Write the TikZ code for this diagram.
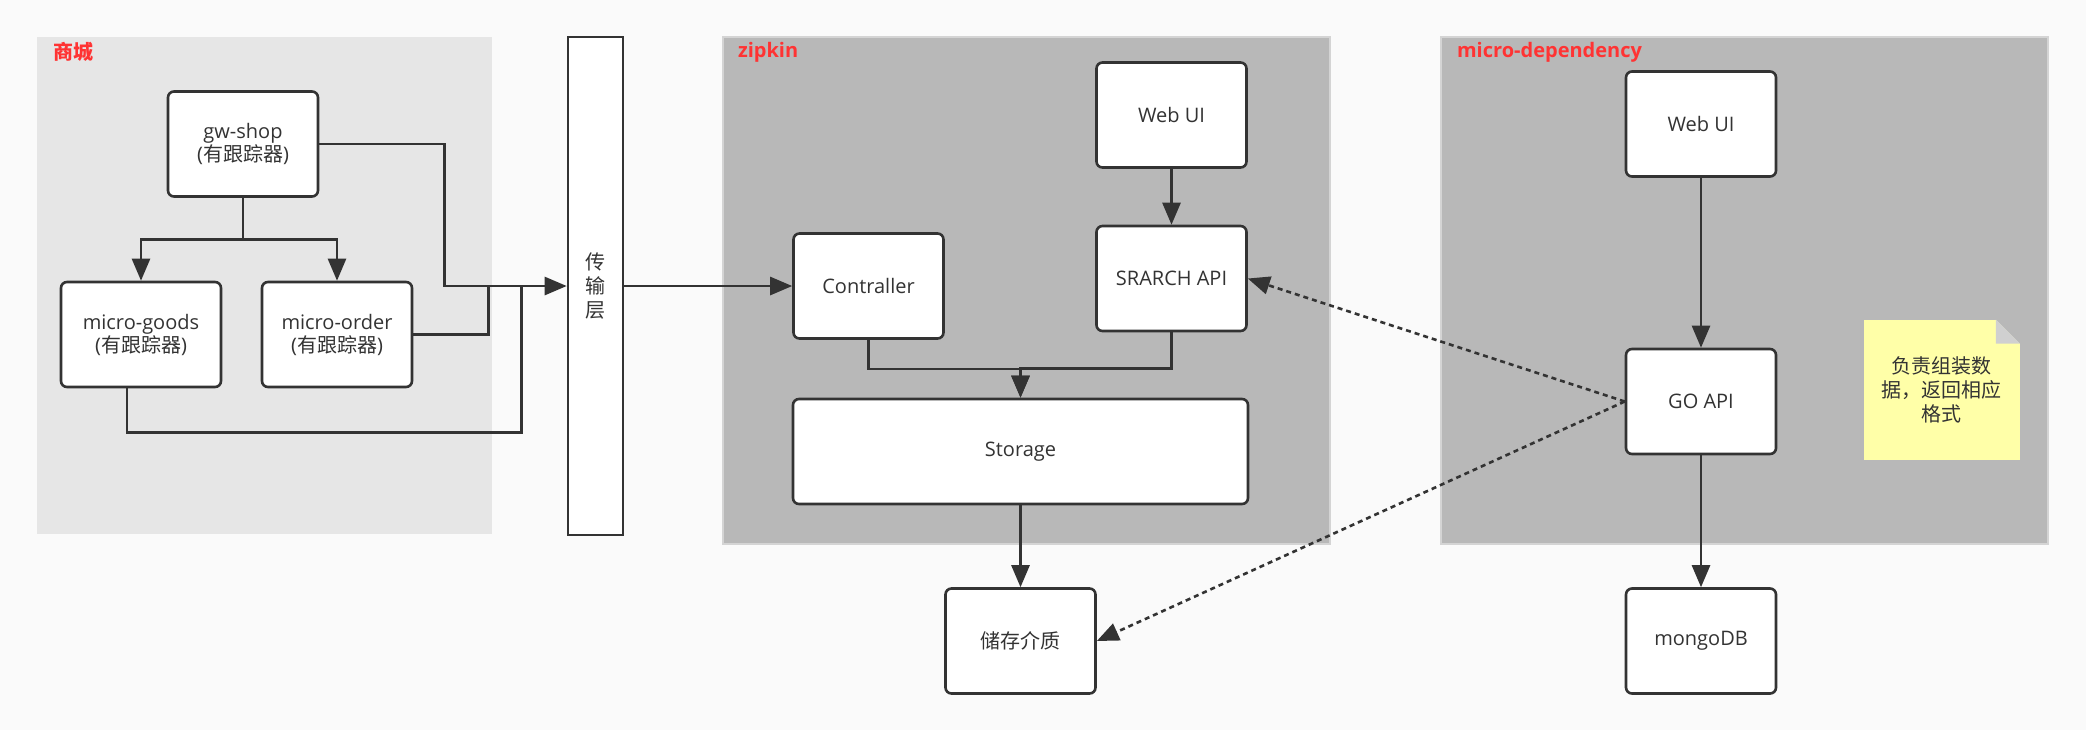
\documentclass[tikz,border=0pt]{standalone}
\usepackage{fontspec}
\setmainfont{Open Sans}
\newfontfamily\cjk{Noto Sans CJK SC}
\usetikzlibrary{arrows.meta, calc, positioning}

\definecolor{bgcol}{HTML}{FAFAFA}
\definecolor{mallcol}{HTML}{E6E6E6}
\definecolor{zonecol}{HTML}{B8B8B8}
\definecolor{zoneline}{HTML}{D4D4D4}
\definecolor{linecol}{HTML}{333333}
\definecolor{labelcol}{HTML}{FF3333}
\definecolor{notecol}{HTML}{FFFFA8}
\definecolor{foldcol}{HTML}{D0D0D0}

\begin{document}
\begin{tikzpicture}[
		x=0.5pt, y=-0.5pt,
		box/.style	={ rectangle, draw=linecol, line width=1.3pt,
			rounded corners=3pt, fill=white, text=linecol,
			minimum width=75pt, minimum height=52.5pt,
			align=center, font=\fontsize{10}{11.5}\selectfont,
		},
		zone/.style	={ draw=zoneline, line width=0.6pt, fill=zonecol },
		title/.style	={ anchor=west, text=labelcol,
			font=\fontsize{10}{12}\selectfont\bfseries,
		},
		memo/.style	={ rectangle, fill=notecol, text=linecol,
			minimum width=78pt, minimum height=70pt,
			align=center, font=\fontsize{10}{12}\selectfont\cjk,
		},
		link/.style	={ draw=linecol, line width=1.3pt },
		flow/.style	={ link, -{Triangle[length=11pt, width=9pt]} },
		query/.style	={ flow, dash pattern=on 2.5pt off 2pt },
	]
	
	% background and zones
	\fill [bgcol] (0,0) rectangle (2086,730);
	\fill [mallcol] (37,37) rectangle (492,534);
	\draw [zone] (723,37) rectangle (1330,544);
	\draw [zone] (1441,37) rectangle (2048,544);
	\node [title] (mall_t) at (46,52) {\cjk 商城};
	\node [title] (zipkin_t) at (731,52) {zipkin};
	\node [title] (dep_t) at (1450,52) {micro-dependency};
	
	% mall services
	\node [box] (shop) at (243,144) {gw-shop\\({\cjk 有跟踪器})};
	\node [box, minimum width=80pt] (goods) at (141,334.5) {micro-goods\\({\cjk 有跟踪器})};
	\node [box] (order) at (337,334.5) {micro-order\\({\cjk 有跟踪器})};
	\node [box, rounded corners=0pt, minimum width=27.5pt, minimum height=249pt,
		font=\fontsize{10}{12}\selectfont\cjk] (bus) at (595.5,286) {传\\输\\层};
	
	% zipkin parts
	\node [box] (ctrl) at (868.5,286) {Contraller};
	\node [box] (webz) at (1171.5,115) {Web UI};
	\node [box] (search) at (1171.5,278.5) {SRARCH API};
	\node [box, minimum width=227.5pt] (storage) at (1020.5,451.5) {Storage};
	\node [box] (media) at (1020.5,641) {\cjk 储存介质};
	
	% micro-dependency column
	\foreach \y/\n/\t in {124/webm/Web UI, 401.5/goapi/GO API, 641/mongo/mongoDB}
		\node [box] (\n) at (1701,\y) {\t};
	\node [memo] (note) at (1941.5,390) {负责组装数\\据，返回相应\\格式};
	\fill [zonecol] ([xshift=-12pt]note.north east) -- (note.north east)
		-- ([yshift=-12pt]note.north east) -- cycle;
	\fill [foldcol] ([xshift=-12pt]note.north east) -- ([yshift=-12pt]note.north east)
		-- ([xshift=-12pt,yshift=-12pt]note.north east) -- cycle;
	
	% mall links
	\coordinate (fork) at ($(shop.south)!0.5!(shop.south |- goods.north)$);
	\draw [flow] (shop.south) -- (fork) -| (goods.north);
	\draw [flow] (fork) -| (order.north);
	\draw [flow] (shop.east) -- ++(125,0) |- (bus.west);
	\draw [link] (order.east) -| ($(bus.west)+(-78,0)$);
	\draw [link] ([xshift=-7pt]goods.south) -- ++(0,44) -| ($(bus.west)+(-45,0)$);
	
	% zipkin links
	\draw [flow] (bus.east) -- (ctrl.west);
	\draw [flow] (webz) -- (search);
	\draw [flow] (ctrl.south) -- ++(0,29) -| (storage.north);
	\draw [flow] (search.south) -- ++(0,36) -| (storage.north);
	\draw [flow] (storage) -- (media);
	
	% micro-dependency links
	\foreach \a/\b in {webm/goapi, goapi/mongo}
		\draw [flow] (\a) -- (\b);
	\draw [query] (goapi.west) -- (search.east);
	\draw [query] (goapi.west) -- (media.east);
	
\end{tikzpicture}
\end{document}
